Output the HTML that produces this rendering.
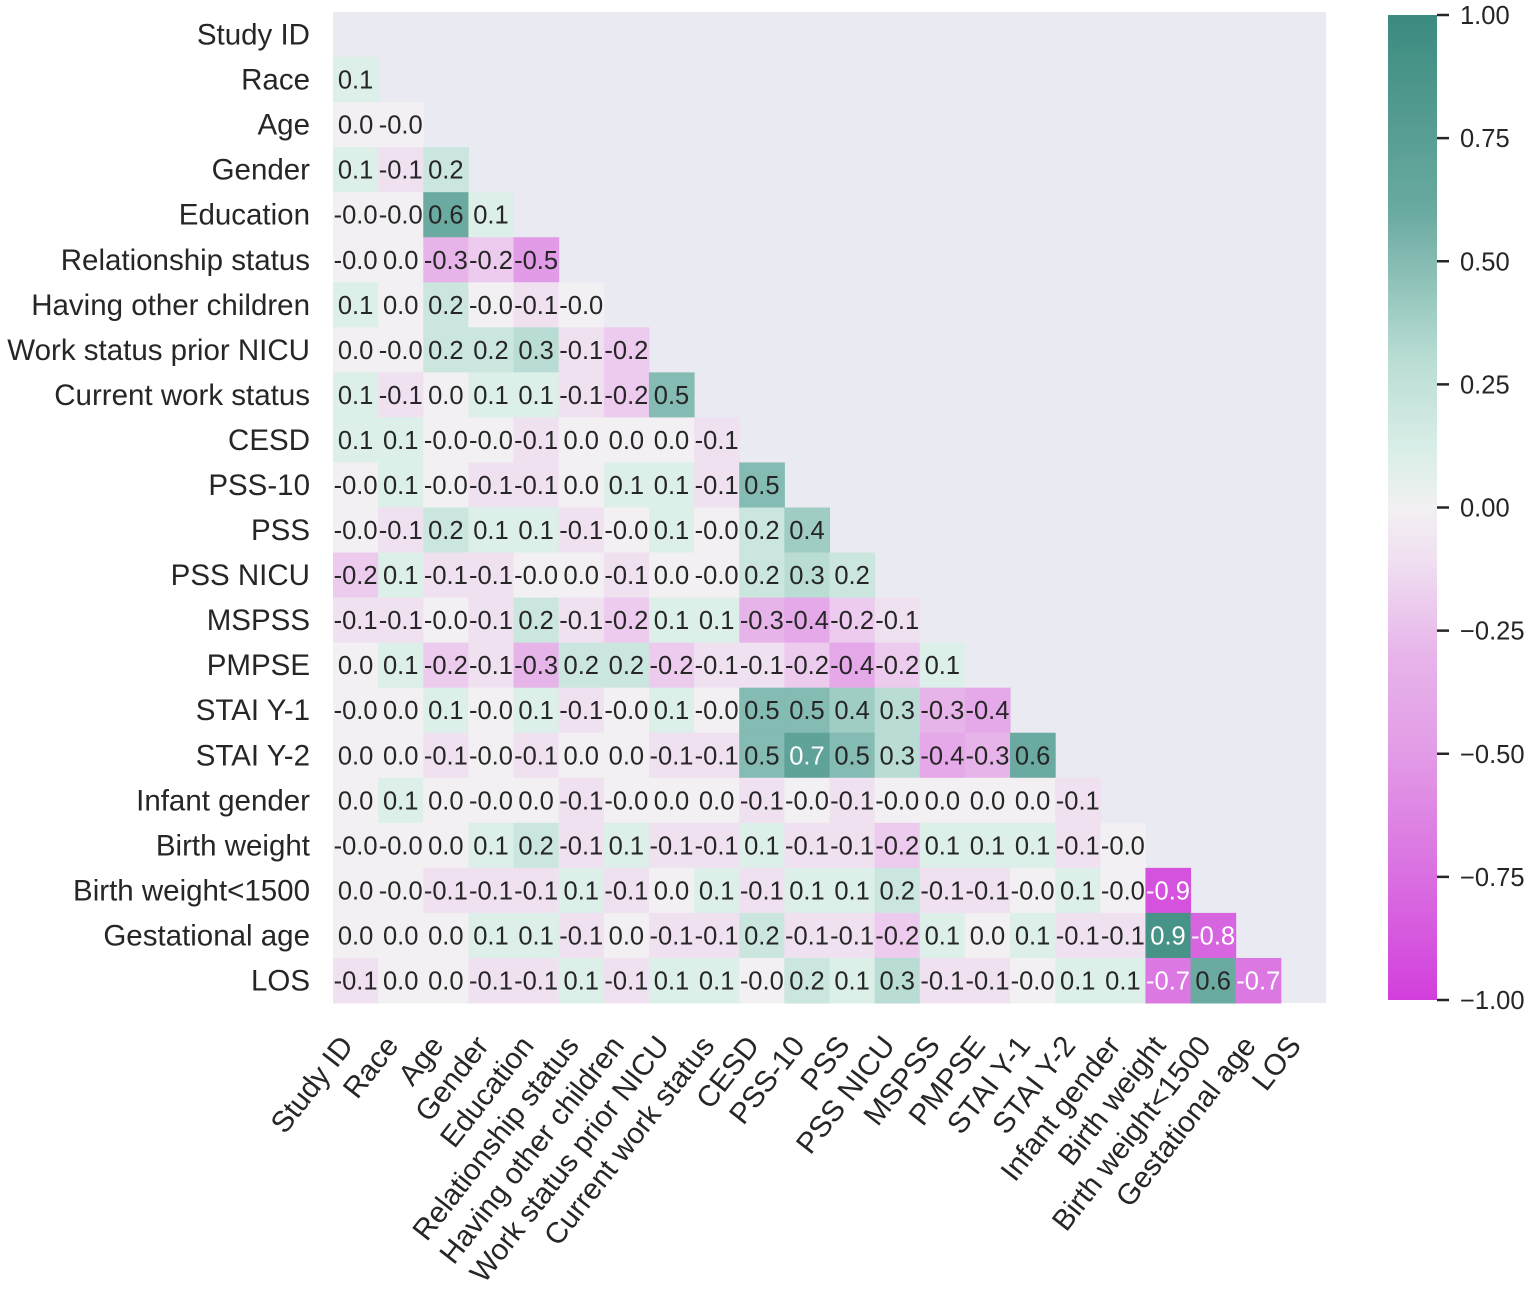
<!DOCTYPE html>
<html><head><meta charset="utf-8"><style>
html,body{margin:0;padding:0;background:#fff;}
svg text{font-family:"Liberation Sans","DejaVu Sans",sans-serif;}
</style></head><body>
<svg id="chart" width="1535" height="1292" xmlns="http://www.w3.org/2000/svg">
<defs><linearGradient id="cbg" x1="0" y1="1" x2="0" y2="0">
<stop offset="0" stop-color="#d23fdc"/><stop offset="0.15" stop-color="#db78e2"/><stop offset="0.25" stop-color="#e29be6"/><stop offset="0.35" stop-color="#e7b4ea"/><stop offset="0.45" stop-color="#f0e1f1"/><stop offset="0.5" stop-color="#f2f0f2"/><stop offset="0.55" stop-color="#dcefe9"/><stop offset="0.65" stop-color="#b9ddd5"/><stop offset="0.8" stop-color="#6aaaa0"/><stop offset="1" stop-color="#3b8b80"/>
</linearGradient></defs>
<rect x="333" y="12" width="993" height="991" fill="#eaeaf2"/>
<g id="cells"></g><g id="ylabels"></g><g id="xlabels"></g>
<rect x="1388" y="15" width="49" height="985" fill="url(#cbg)"/>
<g id="cbticks"></g>
</svg>
<script>
const labels=["Study ID","Race","Age","Gender","Education","Relationship status","Having other children","Work status prior NICU","Current work status","CESD","PSS-10","PSS","PSS NICU","MSPSS","PMPSE","STAI Y-1","STAI Y-2","Infant gender","Birth weight","Birth weight<1500","Gestational age","LOS"];
const values=[
[],
["0.1"],
["0.0","-0.0"],
["0.1","-0.1","0.2"],
["-0.0","-0.0","0.6","0.1"],
["-0.0","0.0","-0.3","-0.2","-0.5"],
["0.1","0.0","0.2","-0.0","-0.1","-0.0"],
["0.0","-0.0","0.2","0.2","0.3","-0.1","-0.2"],
["0.1","-0.1","0.0","0.1","0.1","-0.1","-0.2","0.5"],
["0.1","0.1","-0.0","-0.0","-0.1","0.0","0.0","0.0","-0.1"],
["-0.0","0.1","-0.0","-0.1","-0.1","0.0","0.1","0.1","-0.1","0.5"],
["-0.0","-0.1","0.2","0.1","0.1","-0.1","-0.0","0.1","-0.0","0.2","0.4"],
["-0.2","0.1","-0.1","-0.1","-0.0","0.0","-0.1","0.0","-0.0","0.2","0.3","0.2"],
["-0.1","-0.1","-0.0","-0.1","0.2","-0.1","-0.2","0.1","0.1","-0.3","-0.4","-0.2","-0.1"],
["0.0","0.1","-0.2","-0.1","-0.3","0.2","0.2","-0.2","-0.1","-0.1","-0.2","-0.4","-0.2","0.1"],
["-0.0","0.0","0.1","-0.0","0.1","-0.1","-0.0","0.1","-0.0","0.5","0.5","0.4","0.3","-0.3","-0.4"],
["0.0","0.0","-0.1","-0.0","-0.1","0.0","0.0","-0.1","-0.1","0.5","0.7","0.5","0.3","-0.4","-0.3","0.6"],
["0.0","0.1","0.0","-0.0","0.0","-0.1","-0.0","0.0","0.0","-0.1","-0.0","-0.1","-0.0","0.0","0.0","0.0","-0.1"],
["-0.0","-0.0","0.0","0.1","0.2","-0.1","0.1","-0.1","-0.1","0.1","-0.1","-0.1","-0.2","0.1","0.1","0.1","-0.1","-0.0"],
["0.0","-0.0","-0.1","-0.1","-0.1","0.1","-0.1","0.0","0.1","-0.1","0.1","0.1","0.2","-0.1","-0.1","-0.0","0.1","-0.0","-0.9"],
["0.0","0.0","0.0","0.1","0.1","-0.1","0.0","-0.1","-0.1","0.2","-0.1","-0.1","-0.2","0.1","0.0","0.1","-0.1","-0.1","0.9","-0.8"],
["-0.1","0.0","0.0","-0.1","-0.1","0.1","-0.1","0.1","0.1","-0.0","0.2","0.1","0.3","-0.1","-0.1","-0.0","0.1","0.1","-0.7","0.6","-0.7"]
];
const cbTicks=[1,0.75,0.5,0.25,0,-0.25,-0.5,-0.75,-1];
const NS="http://www.w3.org/2000/svg";
const X0=333,Y0=12,CW=993/22,CH=991/22;
const xs=i=>X0+i*CW, ys=i=>Y0+i*CH;
const stops=[[-1,[210,63,220]],[-0.7,[219,120,226]],[-0.5,[226,155,230]],[-0.3,[231,180,234]],[-0.1,[240,225,241]],[0,[242,240,242]],[0.1,[220,239,233]],[0.3,[185,221,213]],[0.6,[106,170,160]],[1,[59,139,128]]];
function color(v){v=Math.max(-1,Math.min(1,v));
 for(let i=0;i<stops.length-1;i++){const a=stops[i],b=stops[i+1];
  if(v>=a[0]&&v<=b[0]){const t=(v-a[0])/(b[0]-a[0]);return "rgb("+a[1].map((m,k)=>Math.round(m+(b[1][k]-m)*t)).join(",")+")";}}
 return "rgb(242,240,242)";}
function mk(tag,attrs,parent){const el=document.createElementNS(NS,tag);for(const k in attrs)el.setAttribute(k,attrs[k]);parent.appendChild(el);return el;}
const cells=document.getElementById("cells");
values.forEach((row,r)=>row.forEach((s,c)=>{
 const v=parseFloat(s);
 const rc=mk("rect",{x:xs(c),y:ys(r),width:CW+0.5,height:CH+0.5,fill:color(v)},cells);
 
 
 const t=mk("text",{x:xs(c)+CW/2,y:ys(r)+CH/2+9,"text-anchor":"middle","font-size":"25.5",fill:Math.abs(v)>=0.65?"#fff":"#262626"},cells);
 t.textContent=s;
 
 
}));
const yl=document.getElementById("ylabels"),xl=document.getElementById("xlabels");
labels.forEach((l,i)=>{
 const t=mk("text",{x:310,y:ys(i)+CH/2+10,"text-anchor":"end","font-size":"29.5",fill:"#262626"},yl);
 t.textContent=l;
 
 
 const cx=xs(i)+CW/2-1,cy=1046;
 const u=mk("text",{x:cx,y:cy,"text-anchor":"end","font-size":"29.5",fill:"#262626",transform:"rotate(-52 "+cx+" "+cy+")"},xl);
 u.textContent=l;
 
 
});
const cb=document.getElementById("cbticks");
const cy=v=>15+(1-v)/2*985;
cbTicks.forEach(v=>{
 const ln=mk("line",{x1:1437,x2:1449,y1:cy(v),y2:cy(v),stroke:"#262626","stroke-width":2.5},cb);
 
 
 const t=mk("text",{x:1460,y:cy(v)+9,"font-size":"25.5",fill:"#262626"},cb);
 t.textContent=(v<0?"\u2212":"")+Math.abs(v).toFixed(2);
 
 
});
</script>
</body></html>
